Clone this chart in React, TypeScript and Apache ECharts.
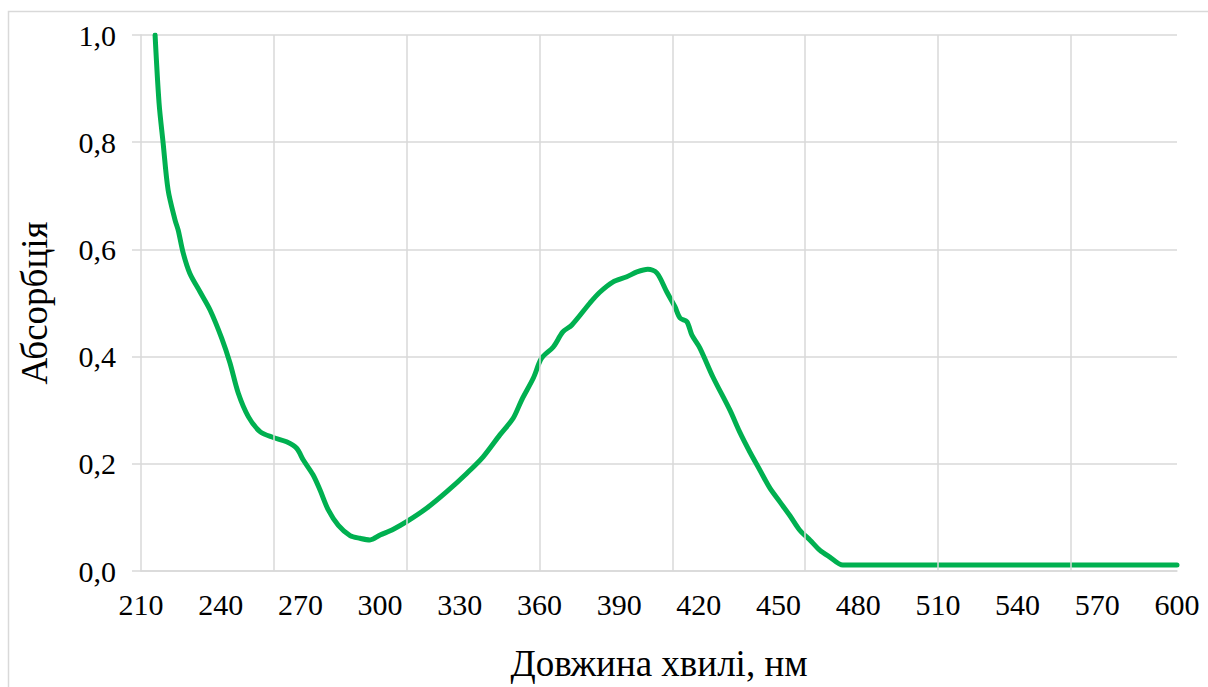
import React, { useEffect, useRef } from "react";
import * as echarts from "echarts";

const wavelengths = [
  215.3, 216.8, 218.3, 220.2, 222.8, 224.0, 225.9, 228.4, 232.2, 236.0, 240.4, 243.5, 246.6, 250.4,
  254.8, 259.8, 264.8, 268.6, 271.1, 274.8, 277.4, 280.5, 284.3, 288.7, 292.4, 296.2, 300.0, 305.0,
  310.0, 317.5, 325.1, 332.6, 338.8, 345.1, 350.1, 353.3, 357.7, 360.8, 365.2, 368.8, 372.2, 379.0,
  382.7, 387.6, 392.9, 396.7, 400.8, 404.2, 408.0, 411.0, 412.9, 415.5, 417.4, 420.4, 425.3, 431.7,
  435.4, 439.2, 443.0, 446.7, 450.5, 454.3, 458.0, 461.8, 465.5, 469.3, 474.2, 490, 510, 530, 550,
  570, 590, 600,
];
const absorbance = [
  1.0, 0.873, 0.8, 0.711, 0.655, 0.636, 0.593, 0.555, 0.521, 0.487, 0.434, 0.388, 0.332, 0.288,
  0.26, 0.249, 0.241, 0.229, 0.207, 0.179, 0.151, 0.114, 0.085, 0.066, 0.061, 0.058, 0.067, 0.078,
  0.092, 0.117, 0.148, 0.182, 0.213, 0.254, 0.285, 0.319, 0.36, 0.397, 0.418, 0.446, 0.459, 0.5,
  0.52, 0.539, 0.549, 0.558, 0.563, 0.556, 0.52, 0.493, 0.472, 0.465, 0.44, 0.416, 0.362, 0.3,
  0.259, 0.222, 0.188, 0.155, 0.129, 0.103, 0.076, 0.058, 0.039, 0.026, 0.011, 0.011, 0.011, 0.011,
  0.011, 0.011, 0.011, 0.011,
];
const gridWavelengths = [260, 310, 360, 410, 460, 510, 560];

const xTitle = "Довжина хвилі, нм";
const yTitle = "Абсорбція";

export default function App() {
  const ref = useRef<HTMLDivElement>(null);

  useEffect(() => {
    document.body.style.margin = "0";
    if (!ref.current) return;
    const chart = echarts.init(ref.current, undefined, { renderer: "svg" });
    const data = wavelengths.map((w, i) => [w, absorbance[i]]);
    chart.setOption({
      animation: false,
      grid: { left: 141, right: 31, top: 35, bottom: 116 },
      graphic: [
        {
          type: "rect",
          shape: { x: 8.5, y: 11.5, width: 1400, height: 900 },
          style: { fill: "none", stroke: "#d9d9d9", lineWidth: 1.5 },
          silent: true,
        },
      ],
      xAxis: {
        type: "value",
        min: 210,
        max: 600,
        interval: 30,
        axisLine: { show: true, lineStyle: { color: "#d9d9d9", width: 1.5 } },
        axisTick: { show: false },
        splitLine: { show: false },
        axisLabel: { color: "#000", fontFamily: "Times New Roman", fontSize: 30, margin: 18 },
        name: xTitle,
        nameLocation: "middle",
        nameGap: 74,
        nameTextStyle: { color: "#000", fontFamily: "Times New Roman", fontSize: 37 },
      },
      yAxis: {
        type: "value",
        min: 0,
        max: 1,
        interval: 0.2,
        axisLine: { show: true, lineStyle: { color: "#d9d9d9", width: 1.5 } },
        axisTick: { show: true, length: 9, lineStyle: { color: "#d9d9d9", width: 1.5 } },
        splitLine: { show: true, lineStyle: { color: "#d9d9d9", width: 1.5 } },
        axisLabel: {
          color: "#000",
          fontFamily: "Times New Roman",
          fontSize: 30,
          margin: 25,
          formatter: (v: number) => v.toFixed(1).replace(".", ","),
        },
        name: yTitle,
        nameLocation: "middle",
        nameRotate: 90,
        nameGap: 88,
        nameTextStyle: { color: "#000", fontFamily: "Times New Roman", fontSize: 37 },
      },
      series: [
        {
          type: "line",
          data,
          showSymbol: false,
          symbol: "none",
          smooth: 0.3,
          lineStyle: { color: "#00B050", width: 5, cap: "round", join: "round" },
          markLine: {
            silent: true,
            symbol: "none",
            label: { show: false },
            lineStyle: { color: "#d9d9d9", width: 1.5, type: "solid" },
            data: gridWavelengths.map((x) => ({ xAxis: x })),
          },
        },
      ],
    });
    return () => chart.dispose();
  }, []);

  return <div ref={ref} style={{ width: 1208, height: 687 }} />;
}
